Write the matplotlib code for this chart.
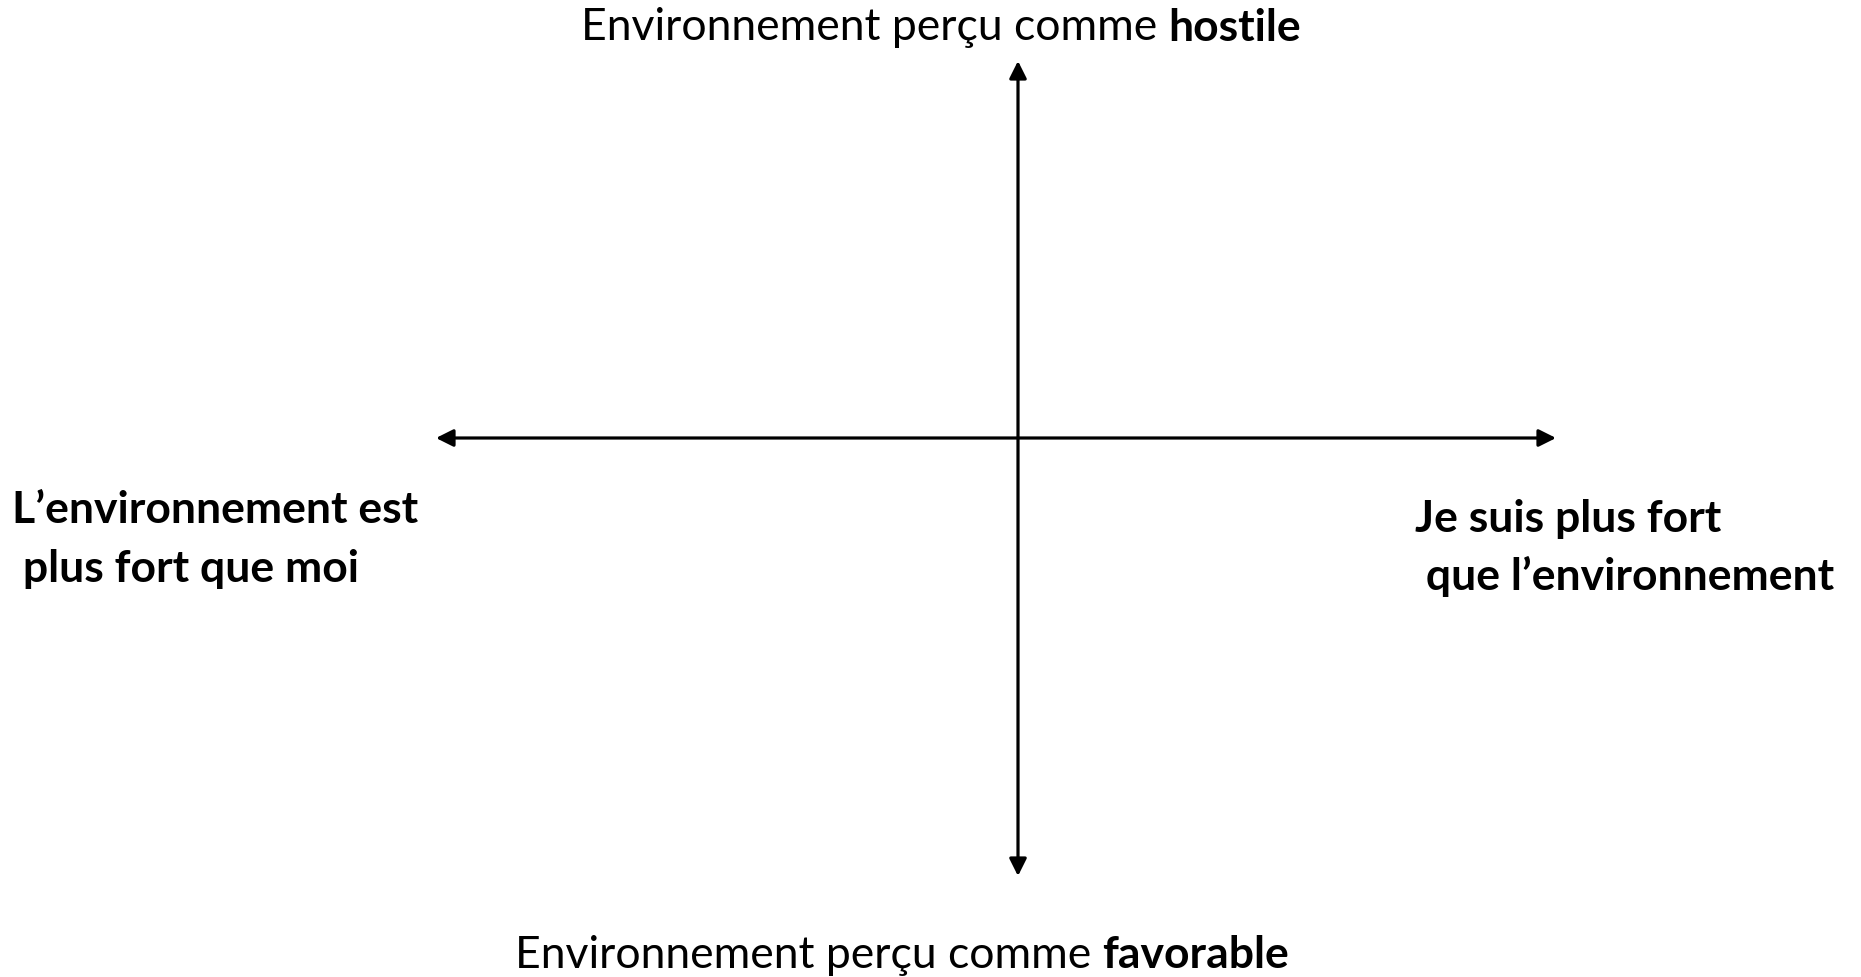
import matplotlib
matplotlib.use("Agg")
import matplotlib.pyplot as plt

plt.rcParams['font.family'] = ['Lato', 'DejaVu Sans']

# Labels of the diagram
top_label = ["Environnement perçu comme ", "hostile"]
bottom_label = ["Environnement perçu comme ", "favorable"]
left_label = ["L\u2019environnement est", " plus fort que moi"]
right_label = ["Je suis plus fort", " que l\u2019environnement"]

# Axes extents in pixels (figure is 1861 x 978)
W, H = 1861, 978
center = (1018, 439)
x_range = (436, 1556)
y_range = (62, 877)
FS = 32

fig = plt.figure(figsize=(W / 100, H / 100), dpi=100)
ax = fig.add_axes([0, 0, 1, 1])
ax.set_xlim(0, W)
ax.set_ylim(H, 0)
ax.axis("off")

arrow = dict(arrowstyle="<|-|>", lw=2.3, color="black",
             mutation_scale=26, shrinkA=0, shrinkB=0)
ax.annotate("", xy=(x_range[0], center[1]), xytext=(x_range[1], center[1]),
            arrowprops=arrow)
ax.annotate("", xy=(center[0], y_range[0]), xytext=(center[0], y_range[1]),
            arrowprops=arrow)

fig.canvas.draw()
renderer = fig.canvas.get_renderer()


def mixed_line(parts, xc, y, size):
    # regular text followed by a bold word, centred on xc
    t1 = ax.text(0, y, parts[0], fontsize=size, va="center", ha="left")
    t2 = ax.text(0, y, parts[1], fontsize=size, va="center", ha="left",
                 fontweight="bold")
    w1 = t1.get_window_extent(renderer).width
    w2 = t2.get_window_extent(renderer).width
    x0 = xc - (w1 + w2) / 2
    t1.set_x(x0)
    t2.set_x(x0 + w1)


mixed_line(top_label, 941, 28, FS)
mixed_line(bottom_label, 902, 955, FS)

for i, line in enumerate(left_label):
    ax.text(12, 510 + i * 59, line, fontsize=FS, fontweight="bold",
            va="center", ha="left")
for i, line in enumerate(right_label):
    ax.text(1415, 519 + i * 57, line, fontsize=FS, fontweight="bold",
            va="center", ha="left")

fig.savefig("out.png", dpi=100, facecolor="white")
